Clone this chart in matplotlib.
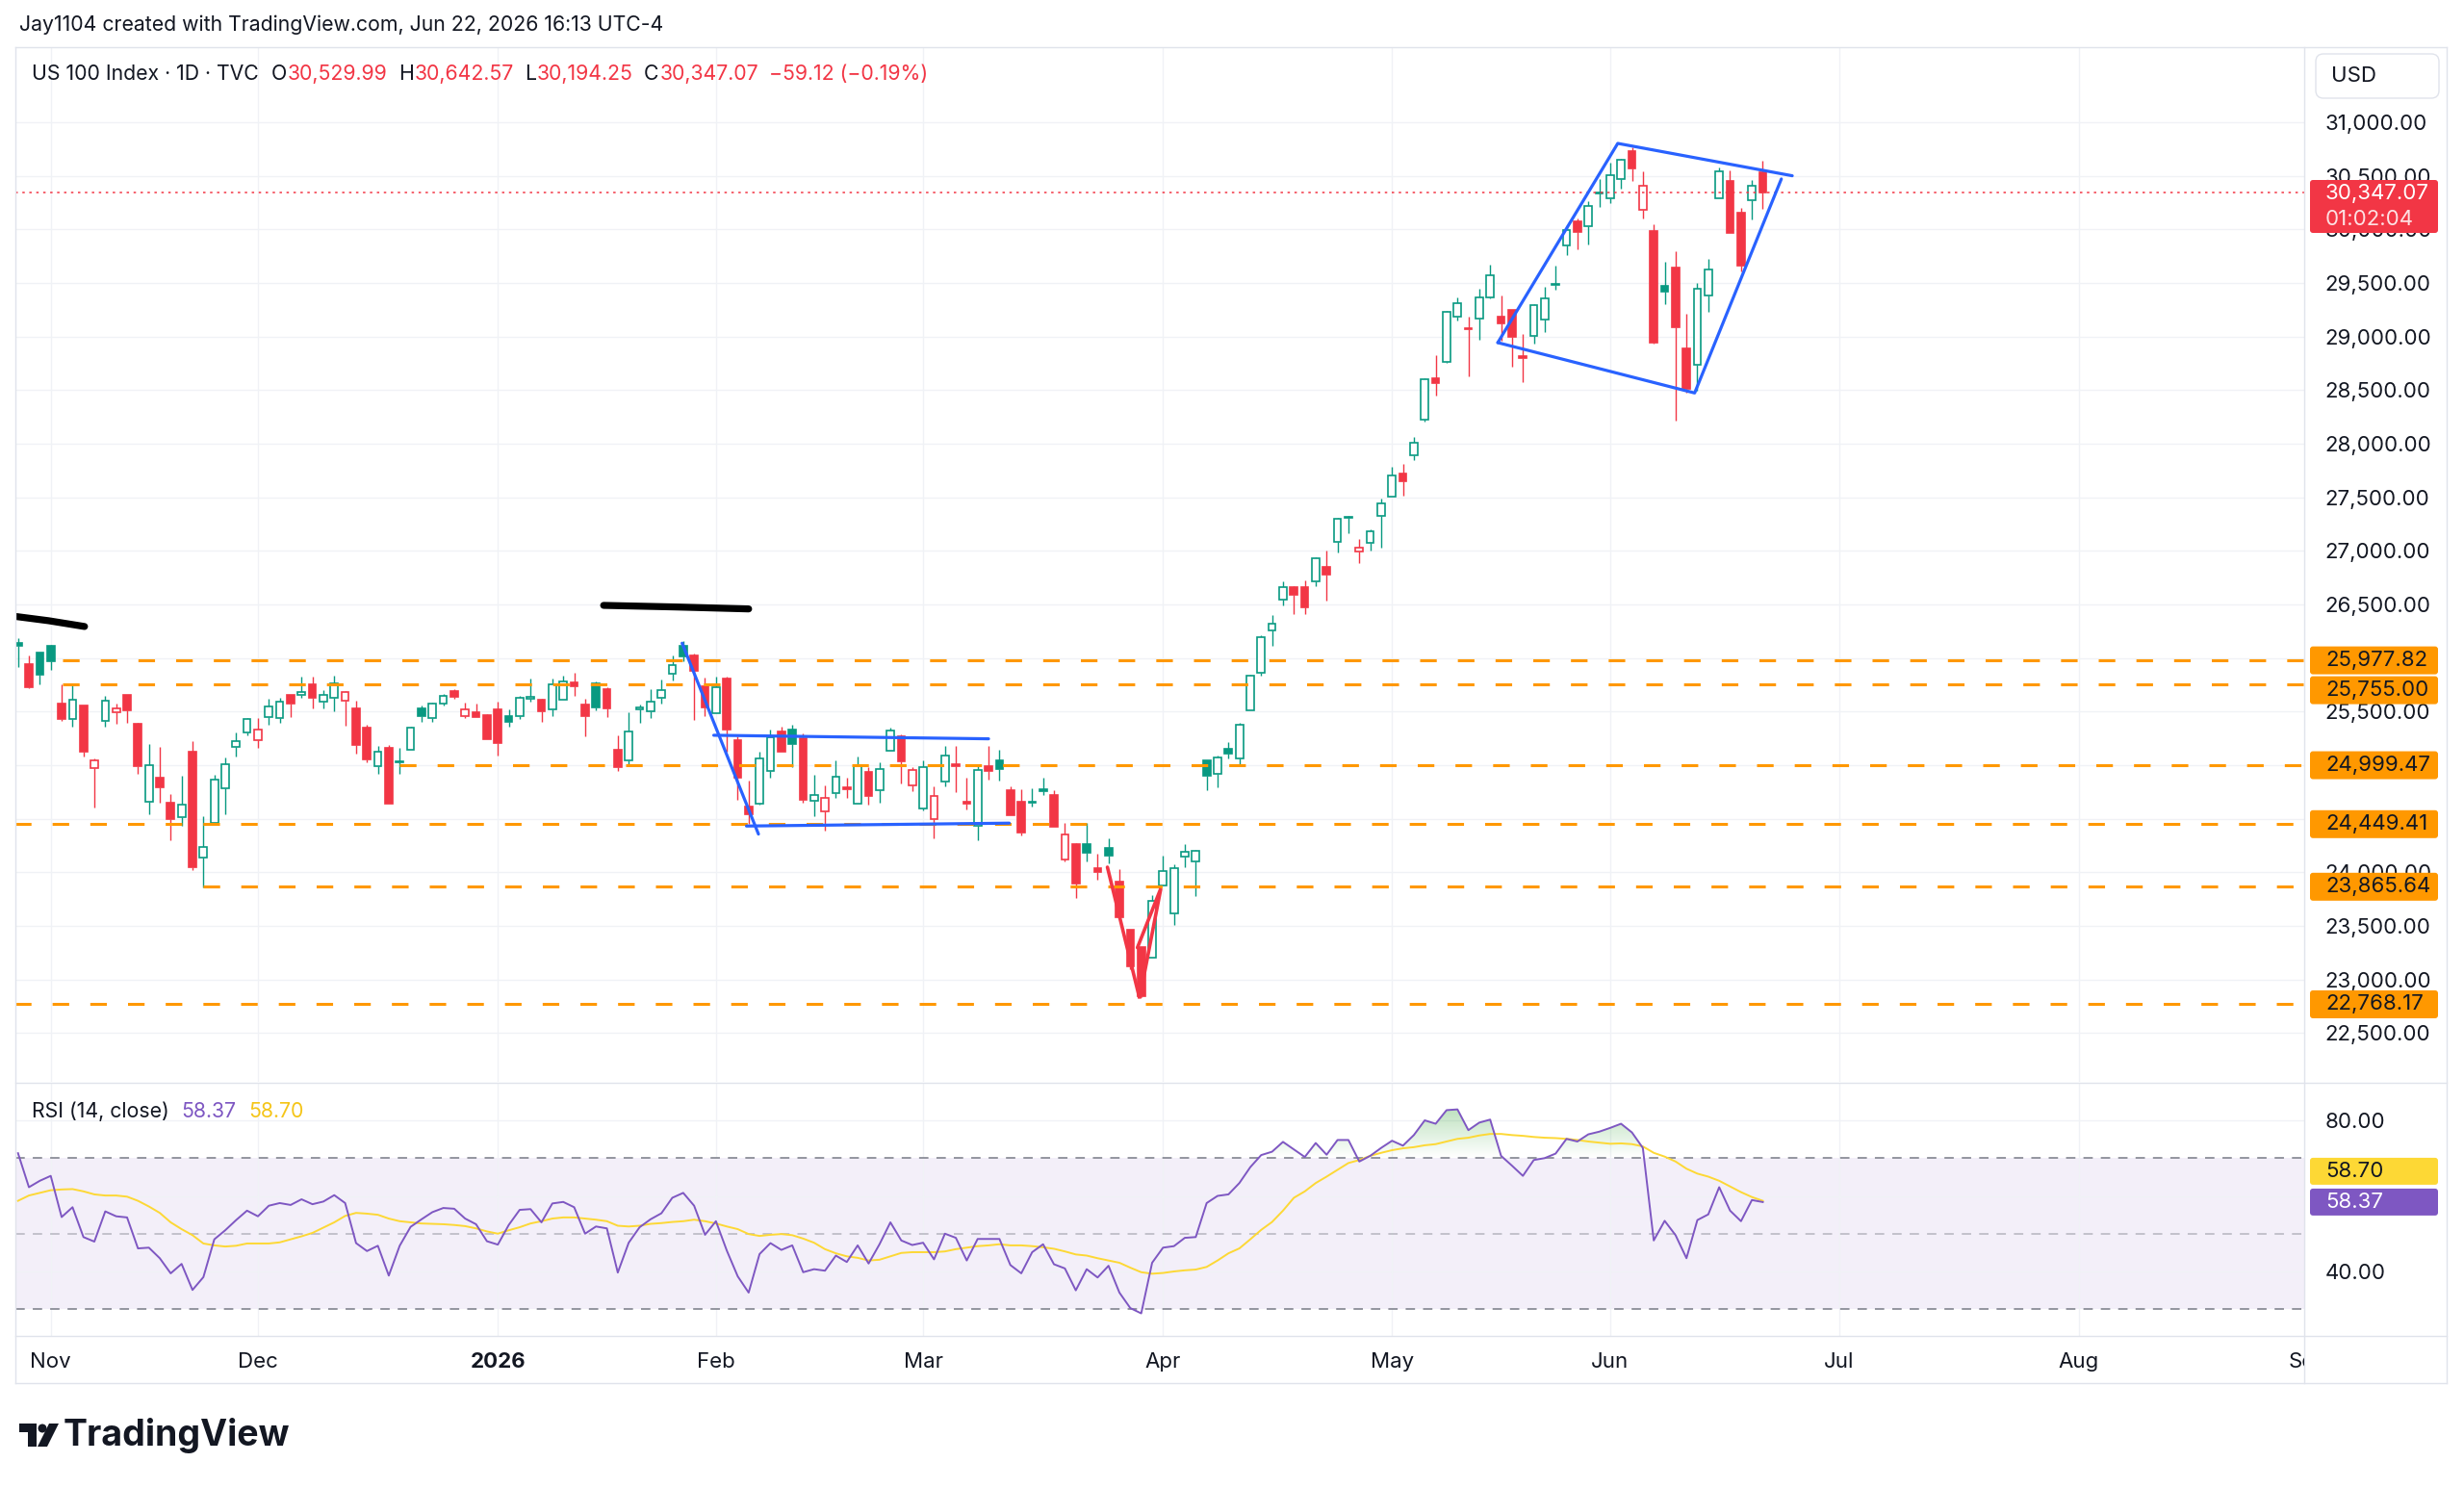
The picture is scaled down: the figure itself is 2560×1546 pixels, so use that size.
import numpy as np
import pandas as pd
import matplotlib
matplotlib.use("Agg")
import matplotlib.pyplot as plt
import matplotlib.transforms as mtransforms
from matplotlib.patches import FancyBboxPatch, Polygon, Circle
from matplotlib.lines import Line2D
from matplotlib.path import Path

# ---------------- data ----------------
holidays = ["2025-11-27", "2025-12-25", "2026-01-01", "2026-01-19", "2026-02-16",
            "2026-04-03", "2026-05-25", "2026-06-19", "2026-07-03", "2026-09-07"]
calendar = pd.bdate_range("2025-10-29", "2026-09-30", freq="C", holidays=holidays)

open_ = [26141, 25946, 26051, 26111, 25572, 25434, 25557, 24973, 25416, 25497,
         25656, 25383, 24659, 24883, 24650, 24518, 25123, 24135, 24458, 24787,
         25168, 25302, 25234, 25446, 25443, 25653, 25656, 25751, 25596, 25626,
         25602, 25527, 25353, 24988, 25162, 25027, 25144, 25527, 25443, 25578,
         25692, 25458, 25497, 25467, 25518, 25458, 25458, 25623, 25608, 25518,
         25608, 25775, 25563, 25766, 25707, 25147, 25048, 25518, 25506, 25626,
         25856, 26117, 26027, 25737, 25488, 25805, 25237, 24614, 24644, 24949,
         25311, 25332, 25252, 24665, 24569, 24740, 24793, 24638, 24934, 24769,
         25138, 25273, 24808, 24599, 24500, 24847, 25009, 24659, 24434, 24994,
         25048, 24769, 24656, 24650, 24779, 24719, 24120, 24260, 24260, 24036,
         24231, 23910, 23461, 23302, 23207, 23874, 23620, 24144, 24105, 25042,
         24919, 25153, 25063, 25515, 25859, 26257, 26548, 26659, 26659, 26719,
         26847, 27081, 27320, 26991, 27072, 27326, 27506, 27725, 27895, 28225,
         28611, 28766, 29186, 29081, 29165, 29365, 29186, 29246, 28817, 29006,
         29156, 29479, 29853, 30075, 30033, 30332, 30293, 30473, 30728, 30180,
         29985, 29476, 29644, 28892, 28737, 29380, 30287, 30452, 30153, 30269,
         30529.99]
high = [26186, 26027, 26051, 26126, 25751, 25743, 25557, 25063, 25647, 25578,
        25656, 25392, 25198, 25168, 24728, 24898, 25222, 24524, 24913, 25069,
        25302, 25437, 25443, 25617, 25632, 25653, 25826, 25826, 25698, 25835,
        25692, 25602, 25377, 25183, 25192, 25159, 25356, 25557, 25587, 25662,
        25713, 25587, 25572, 25476, 25593, 25518, 25647, 25805, 25623, 25805,
        25835, 25865, 25617, 25781, 25728, 25278, 25497, 25566, 25707, 25796,
        26024, 26156, 26045, 25817, 25826, 25826, 25267, 24853, 25123, 25332,
        25362, 25377, 25296, 24913, 24808, 25048, 24883, 25078, 24979, 25024,
        25347, 25287, 24979, 25048, 24799, 25177, 25177, 24883, 25009, 25183,
        25147, 24799, 24779, 24788, 24883, 24764, 24458, 24269, 24464, 24171,
        24314, 24030, 23461, 23302, 23790, 24159, 24075, 24263, 24210, 25042,
        25093, 25219, 25392, 25840, 26210, 26398, 26713, 26668, 26728, 26937,
        27006, 27311, 27330, 27108, 27198, 27485, 27784, 27814, 28060, 28614,
        28826, 29237, 29365, 29186, 29446, 29674, 29386, 29246, 29027, 29305,
        29464, 29665, 30039, 30105, 30263, 30473, 30623, 30662, 30763, 30542,
        30045, 29695, 29799, 29210, 29500, 29725, 30578, 30554, 30204, 30458,
        30642.57]
low = [25916, 25720, 25757, 25886, 25413, 25362, 25084, 24608, 25362, 25383,
       25392, 24919, 24539, 24650, 24299, 24434, 24021, 23859, 24458, 24539,
       25084, 25281, 25159, 25377, 25392, 25452, 25632, 25533, 25533, 25503,
       25371, 25108, 25027, 24919, 24638, 24919, 25144, 25407, 25407, 25557,
       25623, 25443, 25452, 25243, 25093, 25362, 25428, 25593, 25407, 25458,
       25608, 25647, 25272, 25512, 25446, 24949, 25003, 25398, 25437, 25578,
       25787, 25970, 25422, 25458, 25488, 25123, 24680, 24449, 24629, 24883,
       25123, 24979, 24650, 24524, 24389, 24698, 24698, 24638, 24629, 24650,
       25138, 24829, 24757, 24578, 24320, 24799, 24748, 24590, 24299, 24868,
       24859, 24530, 24344, 24614, 24719, 24428, 24099, 23760, 24099, 23931,
       24081, 23581, 23093, 22832, 23207, 23874, 23512, 24045, 23781, 24763,
       24793, 25063, 25003, 25510, 25838, 26114, 26488, 26413, 26407, 26668,
       26539, 26988, 27162, 26883, 27003, 27033, 27506, 27512, 27850, 28210,
       28446, 28757, 29150, 28632, 28970, 29356, 28961, 28722, 28578, 28931,
       29045, 29434, 29763, 29814, 29859, 30213, 30243, 30383, 30449, 30099,
       28937, 29305, 28213, 28476, 28497, 29231, 30287, 29964, 29611, 30093,
       30194.25]
close = [26117, 25728, 25847, 25970, 25428, 25614, 25123, 25048, 25602, 25527,
         25512, 24988, 25003, 24793, 24494, 24629, 24051, 24234, 24862, 25009,
         25228, 25428, 25332, 25548, 25596, 25578, 25686, 25626, 25656, 25766,
         25683, 25189, 25057, 25123, 24638, 25039, 25347, 25458, 25578, 25647,
         25638, 25518, 25452, 25243, 25204, 25401, 25632, 25638, 25503, 25757,
         25781, 25737, 25458, 25536, 25527, 24979, 25311, 25542, 25596, 25701,
         25931, 26015, 25880, 25542, 25731, 25332, 24883, 24539, 25063, 25258,
         25123, 25198, 24680, 24719, 24695, 24889, 24775, 25003, 24710, 24967,
         25323, 25033, 24952, 24982, 24710, 25093, 24988, 24644, 24958, 24950,
         24967, 24530, 24374, 24659, 24758, 24428, 24350, 23895, 24186, 24000,
         24159, 23581, 23123, 22847, 23737, 24015, 24036, 24189, 24201, 24898,
         25072, 25108, 25377, 25835, 26198, 26323, 26662, 26587, 26473, 26931,
         26778, 27302, 27305, 27027, 27183, 27446, 27701, 27647, 28006, 28599,
         28563, 29231, 29314, 29066, 29365, 29575, 29126, 28997, 28796, 29296,
         29356, 29491, 29994, 29973, 30219, 30344, 30503, 30653, 30569, 30404,
         28946, 29416, 29087, 28512, 29446, 29629, 30539, 29964, 29665, 30406.19,
         30347.07]
first_prev_close = 26000.0

rsi = [71.3, 62.3, 64.0, 65.3, 54.4, 57.0, 49.1, 47.9, 55.9, 54.6,
       54.3, 46.1, 46.3, 43.5, 39.5, 42.0, 35.1, 38.5, 48.5, 50.9,
       53.6, 56.1, 54.6, 57.4, 58.1, 57.6, 59.1, 57.8, 58.5, 60.2,
       58.1, 47.5, 45.4, 46.8, 38.9, 46.8, 51.8, 53.8, 55.7, 56.8,
       56.6, 54.0, 52.5, 48.0, 47.1, 52.3, 56.3, 56.5, 53.0, 58.0,
       58.4, 57.0, 50.0, 51.9, 51.4, 39.7,
       47.6, 51.7, 53.8, 55.4, 59.5, 60.8, 57.4, 49.7, 53.3, 45.5,
       38.7, 34.4, 44.6, 47.5, 45.7, 46.9, 39.8, 40.6, 40.2, 44.2,
       42.5, 46.9, 42.1, 47.2, 53.0, 48.2, 47.0, 47.6, 43.2, 50.0,
       48.9, 42.9, 48.6, 48.6, 48.6, 41.7, 39.5, 45.1, 47.2, 41.9,
       40.8, 35.0, 40.6, 38.4, 41.5, 34.4, 30.3, 28.9, 42.3, 46.3,
       46.7, 48.9, 49.1,
       58.1, 60.0, 60.4, 63.4, 67.6, 70.8, 71.7, 74.3, 72.3, 70.3,
       74.0, 70.9, 74.8, 74.8, 69.1, 70.6, 72.7, 74.6, 73.3, 76.1,
       80.0, 79.1, 82.7, 82.9, 77.4, 79.4, 80.2, 70.6, 68.0, 65.3,
       69.5, 70.0, 71.2, 75.1, 74.4, 76.3, 77.0, 78.0, 79.1, 76.8,
       72.7, 48.2, 53.4, 49.6, 43.5, 53.6, 55.1, 62.3, 56.1, 53.3,
       58.9, 58.37]
rsi_ma = [58.7, 60.1, 60.8, 61.5, 61.7, 61.8, 61.2, 60.4, 60.1, 60.1,
          59.8, 58.7, 57.2, 55.5, 53.0, 51.2, 49.6, 47.4, 46.9, 46.6,
          46.8, 47.4, 47.4, 47.4, 47.7, 48.5, 49.3, 50.2, 51.6, 53.0,
          54.7, 55.5, 55.3, 55.0, 54.0, 53.3, 53.0, 52.7, 52.6, 52.5,
          52.3, 52.0, 51.4, 50.6, 50.0, 50.9, 51.7, 52.7, 53.3, 54.0,
          54.3, 54.3, 54.0, 53.7, 53.3,
          52.1, 51.9, 52.1, 52.6, 52.8, 53.1, 53.3, 53.7, 53.3, 52.7,
          51.9, 51.2, 49.9, 49.4, 49.7, 49.9, 49.6, 48.7, 47.6, 45.9,
          44.8, 44.0, 43.6, 42.9, 43.1, 44.0, 44.9, 45.1, 45.1, 45.1,
          45.3, 45.9, 46.3, 46.7, 46.9, 47.2, 46.9, 46.9, 46.7, 46.4,
          46.0, 45.3, 44.5, 44.2, 43.5, 42.9, 42.3, 41.0, 39.8, 39.4,
          39.6, 40.0, 40.3, 40.5,
          41.2, 42.9, 44.8, 46.1, 48.5, 51.0, 53.1, 56.1, 59.5, 61.2,
          63.4, 65.1, 66.9, 68.7, 69.5, 70.6, 71.4, 72.1, 72.6, 72.9,
          73.4, 73.7, 74.4, 75.1, 75.4, 76.0, 76.4, 76.4, 76.1, 75.9,
          75.6, 75.4, 75.3, 75.1, 74.8, 74.4, 74.1, 73.8, 73.9, 73.7,
          73.1, 71.4, 70.4, 69.1, 67.2, 65.9, 65.1, 64.0, 62.5, 61.0,
          59.7, 58.70]

level_prices = [25977.82, 25755.00, 24999.47, 24449.41, 23865.64, 22768.17]
level_start_idx = [4.1, 4.1, 35.0, -0.3, 17.0, -0.3]

# drawings: (bar index, price)
black_strokes = [[(-0.4, 26390), (2.8, 26348), (6.1, 26294)],
                 [(53.7, 26491), (60.4, 26476), (67.0, 26458)]]
blue_lines = [[(60.9, 26138), (67.9, 24357)],
              [(63.8, 25279), (89.0, 25246)],
              [(66.8, 24432), (90.9, 24459)],
              [(135.7, 28943), (146.7, 30802), (162.7, 30500)],
              [(135.7, 28943), (153.75, 28473), (161.7, 30470)]]
red_path = [(99.9, 24048), (102.85, 22824), (104.8, 23850), (102.65, 23297)]

ohlc_last = {"O": "30,529.99", "H": "30,642.57", "L": "30,194.25", "C": "30,347.07"}
change_text = "\u221259.12 (\u22120.19%)"
last_price = 30347.07
rsi_last, rsi_ma_last = 58.37, 58.70

# ---------------- style ----------------
W, H = 2560, 1546
GREEN, RED = "#089981", "#f23645"
TXT = "#131722"
GRID = "#f0f2f6"
FRAME = "#e0e3eb"
ORANGE = "#ff9800"
BLUE = "#2962ff"
PURPLE = "#7e57c2"
YELLOW = "#fdd835"
FS = 16
FS_LEG = 15.3

plt.rcParams["font.family"] = ["Inter", "DejaVu Sans"]
plt.rcParams["lines.scale_dashes"] = False

fig = plt.figure(figsize=(W / 100, H / 100), dpi=100, facecolor="white")

def fx(x):
    return x / W

def fy(y):
    return 1 - y / H

PX = mtransforms.IdentityTransform()

# axes: main price pane and RSI pane
ax = fig.add_axes([fx(16), fy(1124), (2394 - 16) / W, (1124 - 49) / H])
ax2 = fig.add_axes([fx(16), fy(1388), (2394 - 16) / W, (1388 - 1125) / H])
XMIN, XMAX = -0.24, 209.65
for a in (ax, ax2):
    a.set_xlim(XMIN, XMAX)
    for s in a.spines.values():
        s.set_visible(False)
    a.set_facecolor("white")
ax.set_ylim(22045, 31700)
ax2.set_ylim(22.93, 89.94)

N = len(close)
dates = calendar[:N]
x = np.arange(N)

# month starts
month_idx, month_lbl = [], []
for i in range(1, len(calendar)):
    if calendar[i].month != calendar[i - 1].month:
        month_idx.append(i)
        month_lbl.append(str(calendar[i].year) if calendar[i].month == 1 else calendar[i].strftime("%b"))

# grids
for a in (ax, ax2):
    a.set_xticks([m for m in month_idx if m < XMAX])
    a.tick_params(axis="x", length=0, labelbottom=False)
    a.grid(axis="x", color=GRID, lw=1.0, zorder=0)
    a.set_axisbelow(True)

ax.set_yticks(np.arange(22500, 31001, 500))
ax.yaxis.tick_right()
ax.set_yticklabels([f"{v:,.2f}" for v in np.arange(22500, 31001, 500)])
ax.tick_params(axis="y", length=0, pad=15.5, labelsize=FS, labelcolor=TXT)
ax.grid(axis="y", color=GRID, lw=1.0, zorder=0)

ax2.set_yticks([40, 60, 80])
ax2.yaxis.tick_right()
ax2.set_yticklabels(["40.00", "", "80.00"])
ax2.tick_params(axis="y", length=0, pad=15.5, labelsize=FS, labelcolor=TXT)
ax2.grid(axis="y", color=GRID, lw=1.0, zorder=0)

# ---------------- candles ----------------
o = np.array(open_, float); h = np.array(high, float)
l = np.array(low, float); c = np.array(close, float)
prev = np.concatenate([[first_prev_close], c[:-1]])
col = np.where(c >= prev, GREEN, RED)
hollow = c > o
bhi = np.maximum(o, c); blo = np.minimum(o, c)
ax.vlines(x, bhi, h, colors=col, lw=1.0, zorder=2)
ax.vlines(x, l, blo, colors=col, lw=1.0, zorder=2)
face = np.where(hollow, "white", col)
ax.bar(x, np.maximum(bhi - blo, 9), bottom=blo, width=0.68, color=face,
       edgecolor=col, linewidth=1.2, zorder=2.5)

# horizontal levels
for p, s in zip(level_prices, level_start_idx):
    ax.plot([s, 400], [p, p], color=ORANGE, lw=2.2,
            linestyle=(0, (12.4, 15.8)), solid_capstyle="butt", zorder=3)
ax.axhline(last_price, color=RED, lw=1.1, linestyle=(0, (1.8, 3.4)), zorder=3)

# drawings
for stroke in black_strokes:
    xs, ys = zip(*stroke)
    ax.plot(xs, ys, color="black", lw=5.2, solid_capstyle="round", zorder=4)
for ln in blue_lines:
    xs, ys = zip(*ln)
    ax.plot(xs, ys, color=BLUE, lw=2.3, solid_capstyle="round",
            solid_joinstyle="round", zorder=4)
xs, ys = zip(*red_path)
ax.plot(xs, ys, color=RED, lw=2.6, solid_capstyle="round", solid_joinstyle="miter", zorder=4)

# ---------------- RSI ----------------
r = np.array(rsi); rm = np.array(rsi_ma)
ax2.axhspan(30, 70, color=PURPLE, alpha=0.09, lw=0, zorder=0.5)
ax2.axhline(70, color="#787b86", lw=1.1, linestyle=(0, (7, 6)), zorder=1)
ax2.axhline(30, color="#787b86", lw=1.1, linestyle=(0, (7, 6)), zorder=1)
ax2.axhline(50, color="#787b86", lw=1.1, alpha=0.5, linestyle=(0, (7, 6)), zorder=1)

fb = ax2.fill_between(x, r, 70, where=r > 70, interpolate=True, color="none", lw=0)
paths = fb.get_paths()
if paths:
    grad = np.zeros((100, 1, 4))
    grad[:, 0, 0] = 0.30; grad[:, 0, 1] = 0.69; grad[:, 0, 2] = 0.31
    grad[:, 0, 3] = np.linspace(0.0, 0.45, 100)
    im = ax2.imshow(grad, extent=[XMIN, XMAX, 70, 86], origin="lower",
                    aspect="auto", zorder=1.5, interpolation="bilinear")
    im.set_clip_path(Path.make_compound_path(*paths), transform=ax2.transData)
ax2.set_xlim(XMIN, XMAX); ax2.set_ylim(22.93, 89.94)

ax2.plot(x, rm, color=YELLOW, lw=1.4, zorder=2)
ax2.plot(x, r, color=PURPLE, lw=1.4, zorder=3)

# ---------------- frame lines ----------------
def fline(x0, y0, x1, y1, color=FRAME, lw=1.0):
    fig.add_artist(Line2D([fx(x0), fx(x1)], [fy(y0), fy(y1)], color=color, lw=lw,
                          transform=fig.transFigure))

fline(16, 49, 2542, 49)
fline(16, 1437, 2542, 1437)
fline(16, 49, 16, 1437)
fline(2542, 49, 2542, 1437)
fline(16, 1125, 2542, 1125)
fline(16, 1388, 2542, 1388)
fline(2394, 49, 2394, 1437)

# ---------------- texts ----------------
def ftext(xp, yp, s, **kw):
    kw.setdefault("fontsize", FS)
    kw.setdefault("color", TXT)
    kw.setdefault("va", "center")
    kw.setdefault("ha", "left")
    return fig.text(fx(xp), fy(yp), s, **kw)

def pbox(x0, yc, w, hgt, fc, ec="none", rad=3, lw=1.0):
    p = FancyBboxPatch((x0, H - (yc + hgt / 2)), w, hgt,
                       boxstyle=f"round,pad=0,rounding_size={rad}",
                       transform=PX, facecolor=fc, edgecolor=ec, lw=lw, zorder=5)
    fig.add_artist(p)
    return p

ftext(20, 26, "Jay1104 created with TradingView.com, Jun 22, 2026 16:13 UTC-4", fontsize=15.3)

fig.canvas.draw()
rend = fig.canvas.get_renderer()

def seq(xstart, yc, pieces, fs=FS_LEG):
    xp = xstart
    for s, colr, gap, wt in pieces:
        t = ftext(xp, yc, s, color=colr, fontsize=fs, fontweight=wt)
        xp += t.get_window_extent(renderer=rend).width + gap
    return xp

legend_pieces = [("US 100 Index \u00b7 1D \u00b7 TVC", TXT, 13, "normal")]
for k in ["O", "H", "L", "C"]:
    legend_pieces.append((k, TXT, 1, "normal"))
    legend_pieces.append((ohlc_last[k], RED, 11, "normal"))
legend_pieces.append((change_text, RED, 0, "normal"))
seq(33, 77, legend_pieces)

seq(33, 1155, [("RSI (14, close)", TXT, 13, "normal"),
               (f"{rsi_last:.2f}", PURPLE, 12, "normal"),
               (f"{rsi_ma_last:.2f}", "#f5c518", 0, "normal")])

# USD box
pbox(2406, 79, 128, 46, "white", ec=FRAME, rad=8)
ftext(2422, 79, "USD", zorder=6)

# current price box
pbox(2400, 214.5, 133, 55, RED, rad=3)
ftext(2416, 201, f"{last_price:,.2f}", color="white", zorder=6)
ftext(2416, 228, "01:02:04", color="white", alpha=0.85, zorder=6)

# level labels
def price_to_px(p):
    return H - ax.transData.transform((0, p))[1]

ys_lv = [price_to_px(p) for p in level_prices]
order = np.argsort(ys_lv)
placed = {}
last_y = -1e9
for k in order:
    yv = max(ys_lv[k], last_y + 31)
    placed[k] = yv
    last_y = yv
for k, p in enumerate(level_prices):
    pbox(2400, placed[k], 133, 29, ORANGE, rad=3)
    ftext(2416, placed[k], f"{p:,.2f}", zorder=6)

# RSI labels
def rsi_to_px(v):
    return H - ax2.transData.transform((0, v))[1]

y_main = rsi_to_px(rsi_last)
y_ma = rsi_to_px(rsi_ma_last)
if abs(y_ma - y_main) < 30:
    y_ma = y_main - 32
pbox(2400, y_ma, 133, 28, YELLOW, rad=3)
ftext(2416, y_ma, f"{rsi_ma_last:.2f}", zorder=6)
pbox(2400, y_main, 133, 28, PURPLE, rad=3)
ftext(2416, y_main, f"{rsi_last:.2f}", color="white", zorder=6)

# month labels
clipbox = mtransforms.TransformedBbox(
    mtransforms.Bbox.from_extents(16, H - 1437, 2394, H - 1388), PX)
for m, lab in zip(month_idx, month_lbl):
    xp = ax2.transData.transform((m, 0))[0]
    if xp > 2440:
        continue
    t = ftext(xp, 1415, lab, ha="center",
              fontweight="bold" if lab.isdigit() else "normal")
    t.set_clip_box(clipbox)
    t.set_clip_on(True)

# TradingView logo
logo_col = TXT
fig.add_artist(Polygon([(20, H - 1479), (38, H - 1479), (38, H - 1503), (29, H - 1503),
                        (29, H - 1488), (20, H - 1488)], closed=True, transform=PX,
                       facecolor=logo_col, edgecolor="none"))
fig.add_artist(Circle((44, H - 1484), 4.5, transform=PX, facecolor=logo_col, edgecolor="none"))
fig.add_artist(Polygon([(39, H - 1503), (51, H - 1479), (61, H - 1479), (49, H - 1503)],
                       closed=True, transform=PX, facecolor=logo_col, edgecolor="none"))
ftext(66, 1491, "TradingView", fontsize=27, fontweight="bold")

fig.savefig("out.png", dpi=100, facecolor="white")
